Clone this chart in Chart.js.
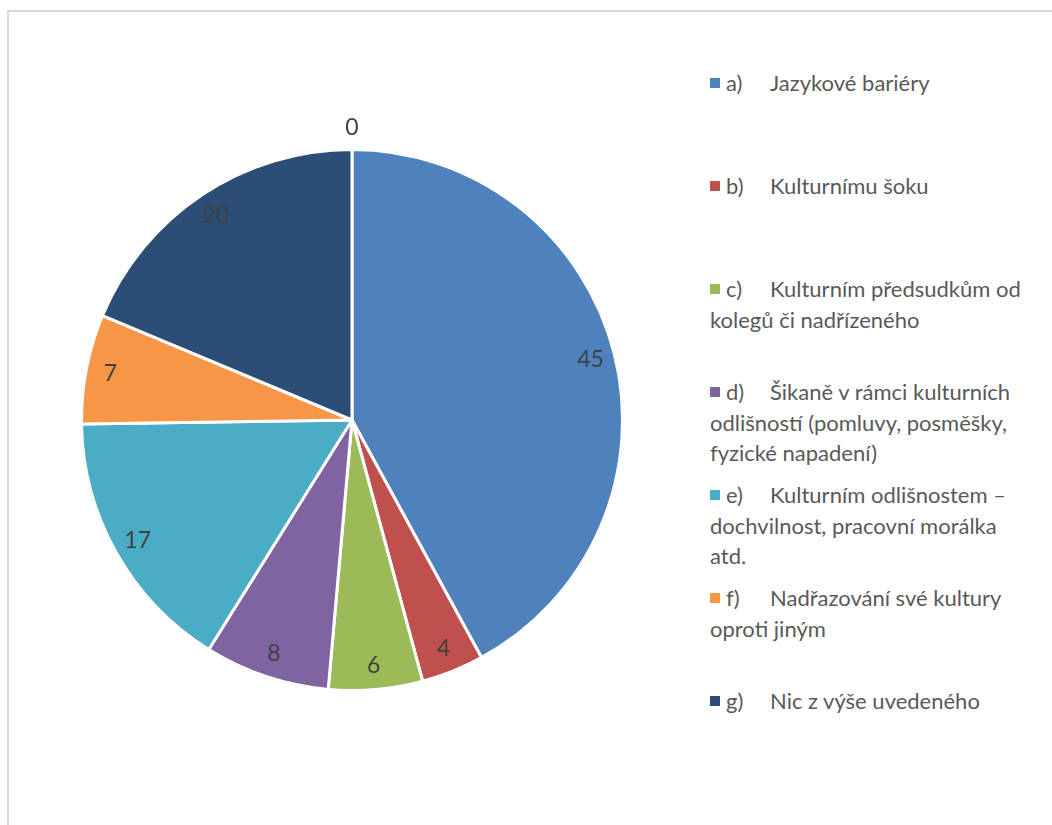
<!DOCTYPE html>
<html>
<head>
<meta charset="utf-8">
<script src="https://cdn.jsdelivr.net/npm/chart.js@4.4.1/dist/chart.umd.min.js"></script>
<style>
  body { margin: 0; background: #fff; font-family: Lato, "Noto Sans", sans-serif; }
  #ramecek { position: absolute; left: 7px; top: 10px; width: 1100px; height: 900px;
    border-left: 2px solid #d9d9d9; border-top: 2px solid #d9d9d9; }
  #graf { position: absolute; left: 42px; top: 110px; width: 620px; height: 620px; }
  #legenda { position: absolute; left: 710px; top: 68px; width: 340px; color: #595959;
    font-size: 22px; line-height: 30.5px; }
  .polozka { height: 103px; }
  .znacka { display: inline-block; width: 10px; height: 10px; margin-right: 6px; vertical-align: 3px; }
  .pismeno { display: inline-block; width: 44px; }
</style>
</head>
<body>
<div id="ramecek"></div>
<div id="graf"><canvas id="myChart"></canvas></div>
<div id="legenda"></div>
<script>
// DADES
const pismena = ["a)", "b)", "c)", "d)", "e)", "f)", "g)", ""];
const kategorie = [
  "Jazykové bariéry",
  "Kulturnímu šoku",
  "Kulturním předsudkům od<br>kolegů či nadřízeného",
  "Šikaně v rámci kulturních<br>odlišností (pomluvy, posměšky,<br>fyzické napadení)",
  "Kulturním odlišnostem –<br>dochvilnost, pracovní morálka<br>atd.",
  "Nadřazování své kultury<br>oproti jiným",
  "Nic z výše uvedeného",
  ""
];
const hodnoty = [45, 4, 6, 8, 17, 7, 20, 0];
const barvy = ["#4f81bd", "#c0504d", "#9bbb59", "#8064a2", "#4bacc6", "#f79646", "#2c4d75", "#4f81bd"];

// legenda (jen 7 polozek, osma je prazdna)
let legenda = document.getElementById("legenda");
for (let i = 0; i < 7; i++) {
  let div = document.createElement("div");
  div.className = "polozka";
  div.innerHTML = '<span class="znacka" style="background:' + barvy[i] + '"></span>' +
    '<span class="pismeno">' + pismena[i] + '</span>' + kategorie[i];
  legenda.appendChild(div);
}

// popisky hodnot
const popisky = {
  id: "popisky",
  afterDatasetsDraw(chart) {
    const ctx = chart.ctx;
    const meta = chart.getDatasetMeta(0);
    ctx.save();
    ctx.font = "23px Lato";
    ctx.fillStyle = "#404040";
    ctx.textAlign = "center";
    ctx.textBaseline = "middle";
    meta.data.forEach((arc, i) => {
      const p = arc.getProps(["x", "y", "startAngle", "endAngle", "outerRadius"], true);
      const uhel = (p.startAngle + p.endAngle) / 2;
      const r = hodnoty[i] == 0 ? p.outerRadius + 22 : p.outerRadius * 0.91;
      ctx.fillText(hodnoty[i], p.x + Math.cos(uhel) * r, p.y + Math.sin(uhel) * r);
    });
    ctx.restore();
  }
};

new Chart(document.getElementById("myChart"), {
  type: "pie",
  data: {
    labels: kategorie.map((k, i) => pismena[i] + " " + k.replace(/<br>/g, " ")),
    datasets: [{
      data: hodnoty,
      backgroundColor: barvy,
      borderColor: "#ffffff",
      borderWidth: 3
    }]
  },
  options: {
    responsive: true,
    maintainAspectRatio: false,
    animation: false,
    layout: { padding: 38 },
    plugins: { legend: { display: false }, tooltip: { enabled: false } }
  },
  plugins: [popisky]
});
</script>
</body>
</html>
